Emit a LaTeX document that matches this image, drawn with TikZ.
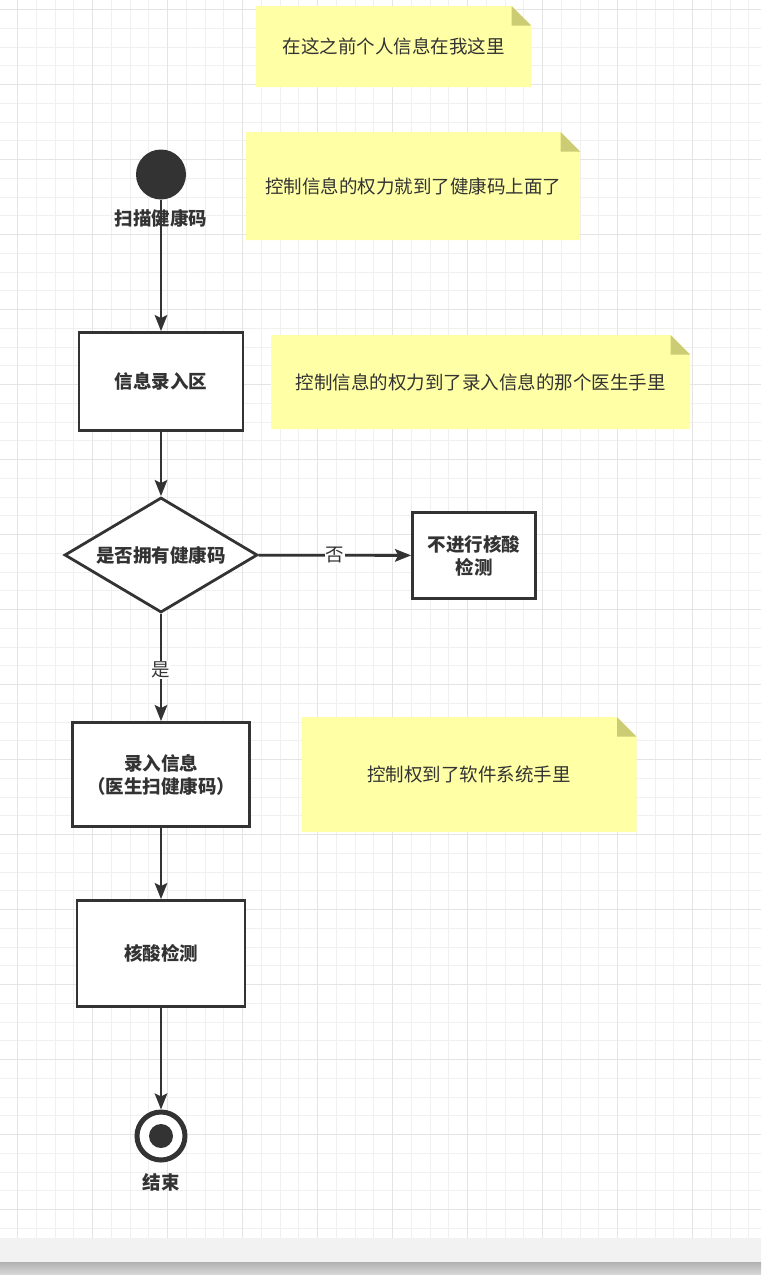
\documentclass[tikz,border=0pt]{standalone}
\usepackage{fontspec}
\setmainfont{Noto Sans CJK SC}
\usetikzlibrary{arrows.meta,shapes.geometric,calc}
\definecolor{ink}{HTML}{333333}
\definecolor{notefill}{HTML}{FFFFA6}
\definecolor{notefold}{HTML}{CCCC74}
\definecolor{gridminor}{HTML}{F0F0F0}
\definecolor{gridmajor}{HTML}{E4E4E4}
\newcommand{\bodysize}{\fontsize{18.5}{23}\selectfont}
\tikzset{
  actbox/.style={draw=ink, line width=2.8pt, fill=white, align=center,
    font=\bodysize\bfseries, text=ink, inner sep=0pt},
  choice/.style={diamond, draw=ink, line width=2.8pt, fill=white, aspect=1.68,
    minimum width=193pt, minimum height=115pt, inner sep=0pt,
    font=\bodysize\bfseries, text=ink},
  startdot/.style={circle, fill=ink, minimum size=50pt, inner sep=0pt},
  endring/.style={circle, draw=ink, line width=5pt, fill=white, minimum size=48pt, inner sep=0pt},
  enddot/.style={circle, fill=ink, minimum size=24pt, inner sep=0pt},
  caption/.style={font=\bodysize\bfseries, text=ink, inner sep=0pt},
  flow/.style={draw=ink, line width=2.8pt, -{Stealth[length=16pt, width=12.5pt, inset=3pt]}},
  elabel/.style={fill=white, inner sep=1pt, text=ink, font=\bodysize},
  notebox/.style={inner sep=0pt, outer sep=0pt},
  notetext/.style={text=ink, inner sep=0pt, font=\bodysize},
}
\newcommand{\stickynote}[5]{%
  \node[notebox, minimum width=#3, minimum height=#4] (#1) at (#2) {};
  \fill[notefill] (#1.south west) -- (#1.north west) -- ($(#1.north east)+(-19.5,0)$)
    -- ($(#1.north east)+(0,19.5)$) -- (#1.south east) -- cycle;
  \fill[notefold] ($(#1.north east)+(-19.5,0)$) -- ($(#1.north east)+(-19.5,19.5)$)
    -- ($(#1.north east)+(0,19.5)$) -- cycle;
  \node[notetext] (#1-txt) at (#1) {#5};}

\begin{document}
\begin{tikzpicture}[x=1pt, y=-1pt]
  \useasboundingbox (0,0) rectangle (761,1275);

  %% ---- grid paper ----
  \foreach \gx in {17.5,36.25,...,761} \draw[gridminor, line width=1pt] (\gx,0) -- (\gx,1238);
  \foreach \gy in {9.5,28.25,...,1238} \draw[gridminor, line width=1pt] (0,\gy) -- (761,\gy);
  \foreach \gx in {17.5,92.5,...,761} \draw[gridmajor, line width=1pt] (\gx,0) -- (\gx,1238);
  \foreach \gy in {9.5,84.5,...,1238} \draw[gridmajor, line width=1pt] (0,\gy) -- (761,\gy);
  \fill[gray!10] (0,1238) rectangle (761,1262);
  \shade[top color=gray!60, bottom color=gray!30] (0,1262) rectangle (761,1275);

  %% ---- notes ----
  \stickynote{n1}{393.5,46.5}{275pt}{81pt}{在这之前个人信息在我这里}
  \stickynote{n2}{413,186}{334pt}{108pt}{控制信息的权力就到了健康码上面了}
  \stickynote{n3}{480.5,382}{419pt}{94pt}{控制信息的权力到了录入信息的那个医生手里}
  \stickynote{n4}{469,774.5}{335pt}{115pt}{控制权到了软件系统手里}

  %% ---- flow ----
  \node[startdot] (start) at (161,174.5) {};
  \node[actbox, minimum width=164pt, minimum height=98pt] (entry) at (161,381.5) {信息录入区};
  \node[choice] (check) at (161,555) {是否拥有健康码};
  \node[actbox, minimum width=123pt, minimum height=86pt] (skip) at (474,555.5) {不进行核酸\\检测};
  \node[actbox, minimum width=177pt, minimum height=104pt] (record) at (161,774.5) {录入信息\\（医生扫健康码）};
  \node[actbox, minimum width=168pt, minimum height=106pt] (test) at (161,953.5) {核酸检测};
  \node[endring] (stop) at (161,1136) {};
  \node[enddot] (stopdot) at (stop) {};

  \draw[flow] (start) -- (entry);
  \draw[flow] (entry) -- (check);
  \draw[flow] (check) -- node[elabel] (nolbl) {否} (skip);
  \draw[flow] (check) -- node[elabel, pos=0.52] (yeslbl) {是} (record);
  \draw[flow] (record) -- (test);
  \draw[flow] (test) -- (stop);

  \node[caption] (startlbl) at (161,218.5) {扫描健康码};
  \node[caption] (stoplbl) at (161,1182) {结束};

\end{tikzpicture}
\end{document}
